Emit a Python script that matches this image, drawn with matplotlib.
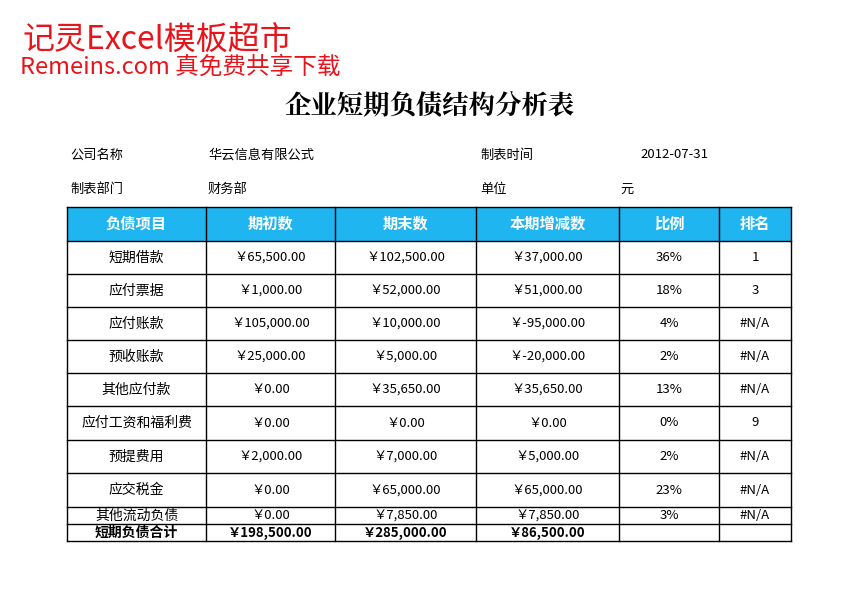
import matplotlib
matplotlib.use("Agg")
import matplotlib.pyplot as plt
from matplotlib.patches import Rectangle

plt.rcParams['font.family'] = ['Noto Sans CJK SC', 'DejaVu Sans']

headers = ["负债项目", "期初数", "期末数", "本期增减数", "比例", "排名"]
items = ["短期借款", "应付票据", "应付账款", "预收账款", "其他应付款", "应付工资和福利费",
         "预提费用", "应交税金", "其他流动负债", "短期负债合计"]
begin = ["￥65,500.00", "￥1,000.00", "￥105,000.00", "￥25,000.00", "￥0.00", "￥0.00",
         "￥2,000.00", "￥0.00", "￥0.00", "￥198,500.00"]
end = ["￥102,500.00", "￥52,000.00", "￥10,000.00", "￥5,000.00", "￥35,650.00", "￥0.00",
       "￥7,000.00", "￥65,000.00", "￥7,850.00", "￥285,000.00"]
change = ["￥37,000.00", "￥51,000.00", "￥-95,000.00", "￥-20,000.00", "￥35,650.00", "￥0.00",
          "￥5,000.00", "￥65,000.00", "￥7,850.00", "￥86,500.00"]
ratio = ["36%", "18%", "4%", "2%", "13%", "0%", "2%", "23%", "3%", ""]
rank = ["1", "3", "#N/A", "#N/A", "#N/A", "9", "#N/A", "#N/A", "#N/A", ""]

W, H = 860, 615
fig = plt.figure(figsize=(W/100, H/100), dpi=100)
ax = fig.add_axes([0, 0, 1, 1])
ax.set_xlim(0, W); ax.set_ylim(H, 0); ax.axis('off')

ax.text(22, 40, "记灵Excel模板超市", color="#E8141B", fontsize=23, va='center', ha='left')
ax.text(20, 67, "Remeins.com 真免费共享下载", color="#E8141B", fontsize=17, va='center', ha='left')
ax.text(430, 105, "企业短期负债结构分析表", fontsize=19, fontweight='bold', ha='center', va='center',
        family=['Noto Serif CJK SC', 'Noto Sans CJK SC'])

info = [(70, 155, "公司名称"), (208, 155, "华云信息有限公式"), (480, 155, "制表时间"),
        (640, 155, "2012-07-31"), (70, 189, "制表部门"), (208, 189, "财务部"),
        (480, 189, "单位"), (620, 189, "元")]
for x, y, t in info:
    ax.text(x, y, t, fontsize=9.5, va='center', ha='left')

xs = [67, 206, 335, 476, 619, 719, 791]
ys = [207, 241, 274, 307, 340, 373, 406, 440, 473, 507, 524, 541]

ax.add_patch(Rectangle((xs[0], ys[0]), xs[-1]-xs[0], ys[1]-ys[0], color="#1FB5F0", lw=0))
for i, h in enumerate(headers):
    ax.text((xs[i]+xs[i+1])/2, (ys[0]+ys[1])/2, h, color="white", fontsize=11,
            fontweight='bold', ha='center', va='center')

cols = [items, begin, end, change, ratio, rank]
for r in range(len(items)):
    yc = (ys[r+1]+ys[r+2])/2
    bold = r == len(items)-1
    for c, col in enumerate(cols):
        ax.text((xs[c]+xs[c+1])/2, yc, col[r], fontsize=10 if c == 0 else 9.5,
                fontweight='bold' if bold else 'normal', ha='center', va='center')

for y in ys:
    ax.plot([xs[0], xs[-1]], [y, y], color='black', lw=1)
for x in xs:
    ax.plot([x, x], [ys[0], ys[-1]], color='black', lw=1)

fig.savefig("out.png", dpi=100)
